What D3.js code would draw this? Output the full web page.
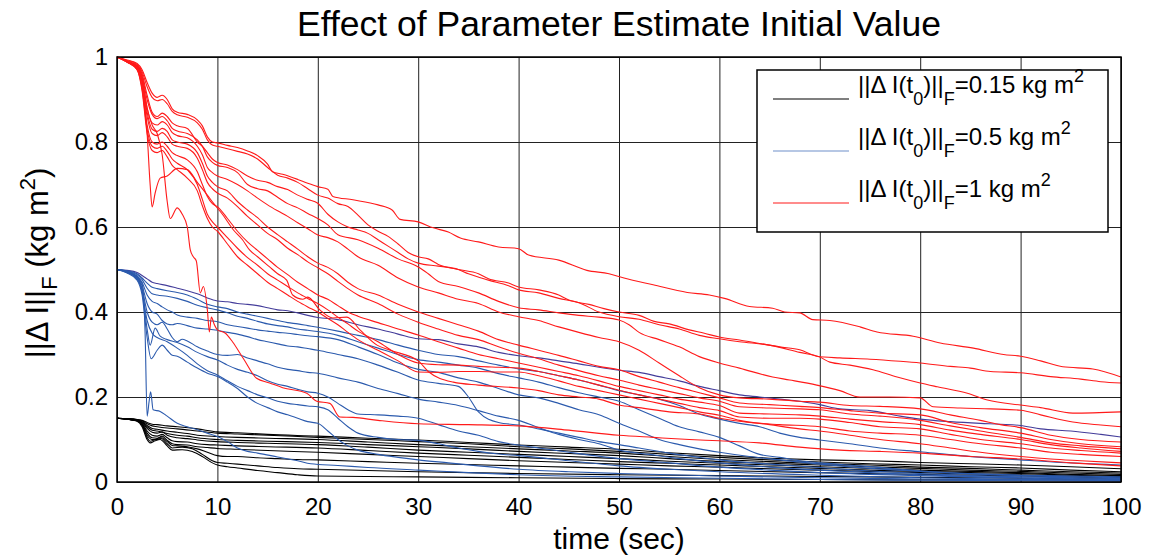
<!DOCTYPE html>
<html><head><meta charset="utf-8">
<script src="https://cdn.jsdelivr.net/npm/d3@7"></script>
<style>
body{margin:0;background:#fff;}
svg{display:block;font-family:Arial,"Liberation Sans",Helvetica,sans-serif;}
</style>
</head><body>
<svg id="c" width="1151" height="556"></svg>
<script>
// ---------------- DATA ----------------
const titleText = "Effect of Parameter Estimate Initial Value";
const xLabel = "time (sec)";
const xTicks = [0,10,20,30,40,50,60,70,80,90,100];
const xTickLabels = ["0","10","20","30","40","50","60","70","80","90","100"];
const yTicks = [0,0.2,0.4,0.6,0.8,1];
const yTickLabels = ["0","0.2","0.4","0.6","0.8","1"];
const legendValues = ["0.15","0.5","1"];

// black: ||ΔI(t0)||F = 0.15
const blackSeries = [
 [[0,.15],[1,.149],[2,.147],[2.5,.145],[3,.14],[3.5,.136],[4,.135],[5,.132],[6,.13],[8,.125],[10,.118],[12,.116],[15,.112],[20,.108],[25,.103],[30,.099],[35,.093],[40,.087],[45,.082],[50,.077],[55,.069],[60,.062],[65,.056],[70,.052],[75,.05],[80,.046],[85,.043],[90,.04],[95,.036],[100,.031]],
 [[0,.15],[1,.149],[2,.147],[2.5,.144],[3,.137],[3.5,.132],[4,.13],[5,.127],[6,.125],[8,.12],[10,.115],[12,.113],[15,.11],[20,.105],[25,.1],[30,.095],[35,.09],[40,.083],[45,.078],[50,.072],[55,.065],[60,.058],[65,.052],[70,.047],[75,.043],[80,.04],[85,.036],[90,.033],[95,.028],[100,.024]],
 [[0,.15],[1,.149],[2,.146],[2.5,.142],[3,.133],[3.5,.126],[4,.124],[5,.12],[6,.117],[7,.114],[8,.11],[10,.107],[12,.105],[15,.103],[20,.1],[25,.094],[30,.088],[35,.083],[40,.078],[45,.073],[50,.068],[55,.06],[60,.053],[65,.048],[70,.043],[75,.04],[80,.035],[85,.032],[90,.028],[95,.024],[100,.021]],
 [[0,.15],[1,.149],[2,.146],[2.5,.141],[3,.13],[3.5,.122],[4,.12],[5,.114],[6,.11],[7,.108],[8,.104],[10,.1],[12,.098],[15,.096],[20,.093],[25,.088],[30,.083],[35,.078],[40,.072],[45,.067],[50,.062],[55,.055],[60,.048],[65,.044],[70,.04],[75,.036],[80,.032],[85,.028],[90,.025],[95,.021],[100,.018]],
 [[0,.15],[1,.148],[2,.145],[2.5,.14],[3,.126],[3.5,.117],[4,.115],[4.5,.118],[5,.11],[6,.104],[7,.102],[8,.099],[10,.095],[12,.093],[15,.091],[20,.088],[25,.082],[30,.075],[35,.07],[40,.065],[45,.06],[50,.055],[55,.049],[60,.044],[65,.04],[70,.036],[75,.032],[80,.028],[85,.025],[90,.022],[95,.018],[100,.015]],
 [[0,.15],[1,.148],[2,.145],[2.5,.138],[3,.12],[3.5,.11],[4,.108],[4.5,.112],[5,.104],[5.5,.097],[6,.095],[7,.094],[8,.09],[9,.088],[10,.087],[12,.085],[15,.083],[20,.08],[25,.074],[30,.068],[35,.063],[40,.058],[45,.053],[50,.048],[55,.044],[60,.04],[65,.036],[70,.032],[75,.028],[80,.025],[85,.022],[90,.02],[95,.016],[100,.013]],
 [[0,.15],[1,.148],[2,.145],[2.5,.137],[3,.115],[3.5,.104],[4,.103],[4.5,.108],[5,.098],[5.5,.09],[6,.088],[7,.087],[8,.083],[9,.081],[10,.079],[12,.077],[15,.074],[20,.07],[25,.065],[30,.06],[35,.055],[40,.05],[45,.046],[50,.042],[55,.038],[60,.035],[65,.031],[70,.028],[75,.025],[80,.022],[85,.019],[90,.017],[95,.014],[100,.011]],
 [[0,.15],[1,.148],[2,.144],[2.5,.135],[3,.11],[3.5,.1],[4,.1],[4.5,.104],[5,.095],[5.5,.086],[6,.085],[7,.083],[8,.078],[9,.07],[10,.062],[11,.06],[12,.06],[14,.057],[16,.055],[18,.053],[20,.052],[25,.048],[30,.044],[35,.041],[40,.038],[45,.035],[50,.032],[55,.03],[60,.027],[70,.022],[80,.018],[90,.014],[100,.009]],
 [[0,.15],[1,.148],[2,.144],[2.5,.134],[3,.105],[3.3,.096],[3.8,.1],[4.3,.104],[5,.09],[5.5,.08],[6.5,.082],[7.5,.078],[8.5,.065],[9.5,.05],[10,.046],[11,.044],[12,.042],[14,.038],[16,.034],[18,.031],[20,.03],[25,.027],[30,.024],[40,.02],[50,.017],[60,.015],[70,.013],[80,.011],[90,.009],[100,.007]],
 [[0,.15],[1,.148],[2,.143],[2.5,.13],[3,.1],[3.3,.092],[3.8,.097],[4.3,.1],[5,.085],[5.5,.075],[6.5,.076],[7.5,.072],[8.5,.06],[9.5,.045],[10,.04],[11,.036],[12,.033],[14,.027],[16,.022],[18,.017],[20,.014],[25,.013],[30,.012],[40,.01],[50,.008],[60,.007],[70,.006],[80,.005],[90,.005],[100,.005]]
];

// blue: ||ΔI(t0)||F = 0.5
const blueSeries = [
 [[0,.5],[1,.498],[2,.493],[2.5,.486],[3,.478],[3.5,.47],[4,.467],[5,.462],[6,.456],[7,.45],[8,.443],[9,.433],[10,.426],[11,.424],[12,.42],[13,.418],[14,.415],[15,.41],[16,.405],[17,.403],[18,.398],[19,.392],[20,.387],[22,.382],[24,.37],[26,.36],[28,.348],[30,.337],[32,.335],[34,.325],[36,.318],[38,.305],[40,.297],[42,.292],[44,.285],[46,.278],[48,.27],[50,.263],[52,.258],[54,.248],[56,.238],[58,.225],[60,.215],[62,.205],[64,.2],[66,.195],[68,.19],[70,.182],[72,.172],[75,.168],[78,.155],[80,.148],[83,.142],[86,.138],[88,.136],[90,.133],[92,.125],[95,.12],[98,.112],[100,.106]],
 [[0,.5],[1,.497],[2,.49],[2.5,.48],[3,.468],[3.5,.458],[4,.455],[5,.45],[6,.446],[7,.44],[8,.43],[9,.418],[10,.412],[11,.408],[12,.4],[13,.395],[14,.39],[15,.385],[16,.38],[17,.375],[18,.372],[19,.368],[20,.364],[22,.355],[24,.345],[26,.335],[28,.322],[30,.31],[32,.3],[34,.295],[36,.285],[38,.275],[40,.266],[42,.26],[44,.25],[46,.24],[48,.228],[50,.215],[52,.205],[54,.195],[56,.18],[58,.16],[60,.148],[62,.138],[64,.13],[66,.115],[68,.105],[70,.099],[73,.09],[76,.08],[80,.071],[84,.062],[88,.055],[90,.052],[94,.046],[97,.043],[100,.04]],
 [[0,.5],[1,.496],[2,.488],[2.5,.476],[3,.456],[3.5,.443],[4,.44],[5,.437],[6,.432],[7,.425],[8,.416],[9,.41],[10,.405],[11,.398],[12,.39],[13,.385],[14,.378],[15,.372],[16,.368],[17,.365],[18,.36],[19,.357],[20,.354],[22,.345],[24,.33],[26,.315],[28,.3],[30,.288],[32,.282],[34,.275],[36,.268],[38,.255],[40,.245],[42,.235],[44,.222],[46,.21],[48,.2],[50,.19],[52,.17],[54,.15],[56,.13],[58,.118],[60,.105],[62,.085],[64,.065],[66,.058],[68,.05],[70,.045],[74,.038],[78,.03],[80,.026],[85,.02],[90,.016],[95,.014],[100,.012]],
 [[0,.5],[1,.495],[2,.485],[2.5,.47],[3,.44],[3.5,.425],[4,.42],[4.5,.412],[5,.405],[5.5,.4],[6,.393],[7,.388],[8,.385],[9,.38],[10,.377],[11,.37],[12,.366],[13,.362],[14,.358],[15,.355],[16,.352],[17,.35],[18,.347],[19,.344],[20,.342],[22,.335],[24,.318],[26,.3],[28,.28],[30,.265],[32,.258],[34,.245],[36,.235],[38,.22],[40,.205],[42,.198],[44,.185],[46,.17],[48,.158],[50,.138],[52,.12],[54,.1],[56,.088],[58,.078],[60,.07],[63,.06],[66,.052],[70,.042],[75,.032],[80,.025],[85,.019],[90,.015],[95,.012],[100,.01]],
 [[0,.5],[1,.495],[2,.484],[2.5,.462],[3,.42],[3.5,.4],[4,.395],[4.5,.38],[5,.372],[5.5,.37],[6,.373],[7,.368],[8,.362],[9,.36],[10,.357],[11,.352],[12,.348],[13,.342],[14,.335],[15,.33],[16,.325],[17,.32],[18,.318],[19,.314],[20,.31],[22,.3],[24,.29],[26,.275],[28,.258],[30,.24],[32,.232],[34,.225],[35,.2],[36,.165],[38,.14],[40,.134],[42,.125],[44,.115],[46,.105],[48,.095],[50,.088],[52,.08],[55,.068],[58,.058],[60,.052],[65,.042],[70,.034],[75,.026],[80,.02],[85,.015],[90,.012],[95,.01],[100,.008]],
 [[0,.5],[1,.494],[2,.482],[2.5,.455],[3,.4],[3.5,.376],[4,.37],[4.5,.376],[5,.36],[5.5,.34],[6,.33],[6.5,.336],[7,.332],[8,.318],[9,.308],[10,.3],[11,.298],[12,.3],[13,.292],[14,.285],[15,.278],[16,.27],[17,.265],[18,.262],[19,.258],[20,.256],[22,.245],[24,.235],[26,.22],[28,.208],[30,.195],[32,.188],[34,.18],[36,.168],[38,.155],[40,.145],[42,.128],[44,.112],[46,.1],[48,.09],[50,.075],[53,.065],[56,.055],[60,.045],[65,.035],[70,.028],[75,.022],[80,.017],[85,.013],[90,.01],[95,.008],[100,.006]],
 [[0,.5],[1,.494],[2,.48],[2.5,.45],[3,.36],[3.3,.322],[3.8,.362],[4.3,.343],[5,.335],[6,.328],[7,.318],[8,.305],[9,.295],[10,.287],[11,.275],[12,.265],[13,.258],[14,.25],[15,.238],[16,.23],[17,.225],[18,.218],[19,.212],[20,.209],[21,.2],[22,.185],[23,.17],[24,.16],[26,.158],[28,.155],[30,.15],[32,.135],[34,.12],[36,.11],[38,.095],[40,.087],[42,.08],[45,.07],[50,.055],[55,.045],[60,.035],[65,.028],[70,.022],[80,.015],[90,.009],[100,.005]],
 [[0,.5],[1,.493],[2,.478],[2.5,.448],[3,.38],[3.5,.35],[4,.34],[5,.33],[6,.315],[7,.298],[8,.278],[9,.262],[10,.252],[11,.238],[12,.225],[13,.215],[14,.205],[15,.198],[16,.19],[17,.185],[18,.182],[19,.179],[20,.177],[21,.17],[22,.15],[23,.13],[24,.115],[26,.105],[28,.1],[30,.098],[32,.09],[34,.08],[36,.072],[38,.066],[40,.062],[45,.05],[50,.038],[55,.03],[60,.024],[70,.016],[80,.01],[90,.006],[100,.004]],
 [[0,.5],[1,.492],[2,.475],[2.5,.44],[3,.34],[3.4,.29],[4,.31],[4.5,.322],[5,.31],[5.5,.298],[6,.296],[7,.282],[8,.268],[9,.256],[10,.248],[11,.235],[12,.22],[13,.2],[14,.185],[15,.175],[16,.165],[17,.158],[18,.15],[19,.142],[20,.138],[21,.12],[22,.1],[23,.085],[24,.075],[26,.065],[28,.058],[30,.052],[33,.045],[36,.038],[40,.03],[45,.024],[50,.02],[60,.014],[70,.01],[80,.007],[90,.005],[100,.003]],
 [[0,.5],[1,.495],[2,.482],[2.5,.467],[2.8,.35],[3,.155],[3.2,.19],[3.35,.212],[3.6,.17],[4.3,.166],[5,.155],[6,.138],[7,.13],[8,.123],[9,.115],[10,.107],[11,.095],[12,.08],[13,.072],[14,.068],[16,.059],[18,.05],[19.3,.043],[22,.039],[25,.034],[30,.028],[35,.022],[40,.017],[50,.012],[60,.009],[70,.006],[80,.004],[90,.003],[100,.002]]
];

// red: ||ΔI(t0)||F = 1
const redSeries = [
 [[0,1],[1,.993],[2,.985],[2.5,.97],[3,.94],[3.5,.915],[4,.905],[4.5,.91],[5,.9],[5.5,.878],[6,.87],[7,.865],[8,.852],[8.5,.838],[9,.812],[9.5,.8],[10,.798],[11,.792],[12,.787],[13,.779],[14,.768],[15,.748],[15.5,.73],[16.5,.724],[18,.712],[19,.703],[20,.695],[21,.689],[21.5,.672],[23.5,.664],[26,.652],[27.4,.64],[28.2,.618],[30,.612],[31.5,.598],[33,.588],[34.2,.574],[36,.565],[38,.553],[40,.549],[41,.534],[44,.522],[46.8,.498],[49,.49],[50.5,.48],[53.4,.464],[56.8,.446],[59,.44],[60.5,.432],[63,.413],[65.3,.409],[66.5,.4],[68,.398],[69.3,.382],[71,.38],[74,.365],[75.7,.353],[79.3,.343],[82,.327],[85.3,.315],[88.3,.3],[90,.296],[92,.285],[94.2,.271],[97.2,.266],[100,.247]],
 [[0,1],[1,.992],[2,.983],[2.5,.965],[3,.93],[3.5,.905],[4,.897],[4.5,.9],[5,.89],[5.5,.872],[6,.864],[7,.858],[8,.845],[8.5,.83],[9,.805],[9.5,.793],[10,.79],[11,.784],[12,.778],[13,.772],[14,.76],[15,.74],[16,.722],[17,.715],[18,.705],[19,.69],[20,.675],[21,.668],[22,.655],[23,.648],[24,.628],[25,.605],[26,.59],[27,.578],[28,.56],[29,.54],[30,.53],[31,.525],[32,.512],[34,.5],[36,.49],[37,.478],[39,.468],[40,.459],[42,.452],[44,.44],[45,.428],[47,.418],[48.5,.408],[50,.4],[52,.392],[53.5,.378],[55,.372],[57,.358],[58.5,.35],[60,.341],[62,.334],[64,.326],[66,.318],[68,.311],[69.7,.296],[72,.292],[75,.289],[78,.284],[80,.28],[83,.272],[85,.268],[87,.26],[90,.257],[93,.248],[96,.242],[98,.236],[100,.233]],
 [[0,1],[1,.99],[2,.98],[2.5,.96],[3,.91],[3.5,.87],[4,.86],[4.5,.868],[5,.86],[5.5,.845],[6,.838],[7,.832],[8,.8],[8.5,.79],[9,.775],[9.5,.76],[10,.752],[11,.746],[12,.735],[13,.72],[14,.71],[15,.705],[16,.695],[17,.688],[18,.675],[19,.665],[20,.656],[21,.63],[22,.612],[23,.6],[24,.593],[25,.585],[26,.57],[27,.555],[28,.54],[29,.525],[30,.515],[32,.508],[34,.5],[35,.49],[37,.475],[39,.462],[40,.452],[42,.445],[44,.432],[46,.422],[48,.4],[50,.389],[52,.383],[54,.37],[56,.36],[58,.345],[60,.337],[62,.33],[65,.322],[68,.305],[70,.294],[71,.282],[73,.275],[75.3,.264],[77.7,.247],[80,.233],[81.7,.224],[84.7,.209],[86.7,.193],[90,.181],[92,.175],[95.2,.162],[100,.165]],
 [[0,1],[1,.99],[2,.98],[2.5,.955],[3,.9],[3.5,.865],[4,.855],[4.5,.86],[5,.85],[5.5,.832],[6,.826],[7,.82],[8,.805],[8.5,.79],[9,.765],[9.5,.752],[10,.745],[11,.74],[12,.728],[13,.7],[14,.69],[15,.685],[16,.67],[17,.655],[18,.645],[19,.632],[20,.62],[21,.605],[22,.582],[24,.57],[26,.55],[28,.525],[30,.506],[31,.49],[32,.472],[34,.46],[36,.445],[38,.425],[40,.41],[42,.405],[44,.398],[46,.392],[48,.388],[50,.381],[51,.37],[52,.352],[54,.335],[56,.318],[58,.295],[60,.28],[62,.268],[65.3,.247],[67,.24],[69.7,.228],[72,.215],[74,.2],[77,.2],[80,.198],[81.3,.177],[84,.174],[87,.172],[90,.169],[92,.158],[95.2,.141],[98,.134],[100,.13]],
 [[0,1],[1,.99],[2,.978],[2.5,.95],[3,.88],[3.5,.845],[4,.84],[4.5,.848],[5,.84],[5.5,.822],[6,.815],[7,.81],[8,.79],[8.5,.77],[9,.74],[9.5,.728],[10,.72],[11,.712],[12,.7],[13,.685],[14,.668],[15,.652],[16,.638],[17,.625],[18,.61],[19,.596],[20,.581],[21,.575],[22,.565],[23,.548],[24,.53],[26,.51],[28,.48],[30,.459],[32,.445],[34,.43],[36,.42],[38,.4],[40,.389],[42,.38],[44,.365],[46,.352],[48,.34],[50,.33],[52,.31],[54,.28],[56,.25],[57,.235],[58,.222],[60,.205],[62,.198],[65,.195],[68,.19],[70,.188],[73,.18],[76,.178],[80,.172],[83,.158],[86,.145],[88,.135],[90,.128],[93,.11],[96,.1],[100,.094]],
 [[0,1],[1,.99],[2,.977],[2.5,.945],[3,.87],[3.5,.83],[4,.825],[4.5,.832],[5,.825],[5.5,.805],[6,.8],[7,.795],[8,.775],[8.5,.75],[9,.72],[9.5,.705],[10,.695],[11,.685],[12,.66],[13,.64],[14,.622],[15,.6],[16,.582],[17,.565],[18,.548],[19,.53],[20,.515],[21,.505],[22,.49],[23,.47],[24,.455],[26,.44],[28,.418],[30,.4],[32,.385],[34,.37],[36,.355],[38,.335],[40,.322],[42,.31],[44,.298],[46,.285],[48,.272],[50,.264],[52,.248],[54,.235],[56,.222],[58,.21],[60,.198],[62,.186],[65,.182],[68,.178],[70,.175],[73,.168],[76,.162],[80,.158],[83,.14],[86,.128],[90,.115],[93,.1],[96,.09],[100,.083]],
 [[0,1],[1,.988],[2,.975],[2.5,.94],[3,.86],[3.5,.82],[4,.815],[4.5,.822],[5,.812],[5.5,.795],[6,.79],[7,.785],[8,.762],[8.5,.735],[9,.705],[9.5,.69],[10,.68],[11,.668],[12,.648],[13,.625],[14,.605],[15,.585],[16,.57],[17,.55],[18,.535],[19,.518],[20,.504],[21,.49],[22,.472],[23,.455],[24,.44],[26,.42],[28,.395],[30,.376],[32,.36],[34,.345],[36,.335],[38,.318],[40,.303],[42,.29],[44,.275],[46,.262],[48,.25],[50,.24],[52,.228],[54,.218],[56,.208],[58,.198],[60,.19],[62,.177],[65,.174],[68,.172],[70,.17],[73,.16],[76,.155],[80,.145],[83,.132],[86,.12],[90,.105],[93,.092],[96,.085],[100,.078]],
 [[0,1],[1,.988],[2,.972],[2.5,.93],[3,.84],[3.5,.8],[4,.795],[4.5,.8],[5,.79],[5.5,.775],[6,.768],[7,.758],[8,.73],[8.5,.7],[9,.672],[9.5,.655],[10,.648],[11,.62],[12,.59],[13,.565],[14,.545],[15,.525],[16,.505],[17,.488],[18,.47],[19,.455],[20,.44],[21,.43],[22,.415],[23,.4],[24,.39],[26,.375],[28,.36],[30,.346],[32,.33],[34,.315],[36,.3],[38,.29],[40,.28],[42,.27],[44,.26],[46,.25],[48,.238],[50,.225],[52,.215],[54,.205],[56,.195],[58,.188],[60,.18],[62,.162],[65,.16],[68,.158],[70,.155],[73,.148],[76,.142],[80,.135],[83,.122],[86,.112],[90,.1],[93,.088],[96,.08],[100,.072]],
 [[0,1],[1,.988],[2,.97],[2.5,.925],[3,.83],[3.5,.79],[4,.785],[4.5,.79],[5,.778],[5.5,.76],[6,.75],[7,.735],[8,.7],[8.5,.665],[9,.63],[9.5,.612],[10,.6],[11,.575],[12,.55],[13,.528],[14,.51],[15,.49],[16,.475],[17,.46],[18,.445],[19,.432],[20,.42],[21,.405],[22,.388],[23,.372],[24,.355],[26,.33],[28,.3],[30,.28],[32,.276],[34,.275],[36,.272],[38,.27],[40,.268],[42,.26],[44,.25],[46,.24],[48,.228],[50,.216],[52,.205],[54,.195],[56,.185],[58,.175],[60,.168],[62,.153],[65,.15],[68,.15],[70,.148],[73,.14],[76,.13],[80,.125],[83,.112],[86,.1],[90,.09],[93,.08],[96,.074],[100,.068]],
 [[0,1],[1,.988],[2,.97],[2.5,.92],[3,.82],[3.5,.78],[4,.775],[4.5,.78],[5,.765],[5.5,.745],[6,.735],[7,.715],[8,.685],[8.5,.65],[9,.62],[9.5,.6],[10,.59],[11,.56],[12,.53],[13,.51],[14,.49],[15,.47],[16,.455],[17,.44],[18,.425],[19,.412],[20,.4],[21,.385],[22,.37],[23,.352],[24,.335],[26,.31],[28,.285],[30,.259],[32,.258],[34,.26],[36,.26],[38,.259],[40,.259],[42,.25],[44,.238],[46,.225],[48,.215],[50,.205],[52,.195],[54,.185],[56,.175],[58,.165],[60,.157],[62,.145],[65,.135],[68,.125],[70,.12],[73,.11],[76,.1],[80,.09],[83,.08],[86,.07],[90,.06],[93,.054],[96,.05],[100,.045]],
 [[0,1],[1,.99],[2,.975],[2.5,.94],[3,.82],[3.3,.7],[3.5,.647],[3.8,.68],[4.3,.715],[5,.72],[6,.738],[7,.735],[8,.705],[9,.675],[9.6,.656],[10.5,.63],[11.6,.593],[12.5,.57],[13.2,.546],[14,.53],[15.2,.506],[16,.49],[16.9,.475],[17.5,.44],[18.5,.43],[19,.435],[20.2,.405],[21.5,.386],[22.9,.388],[24.2,.358],[25.9,.322],[27.2,.31],[30,.285],[31,.26],[33.5,.235],[36,.228],[40,.221],[42,.215],[44,.205],[46,.2],[48,.195],[50,.181],[52,.175],[55,.165],[58,.16],[60,.15],[63,.14],[66,.135],[70,.13],[73,.12],[76,.115],[80,.11],[83,.1],[86,.09],[90,.08],[93,.07],[96,.065],[100,.06]],
 [[0,1],[1,.99],[2,.975],[2.5,.95],[3,.88],[3.5,.84],[4,.82],[4.5,.77],[5,.66],[5.3,.62],[6,.645],[6.5,.63],[7,.6],[7.3,.546],[7.6,.53],[7.9,.52],[8.3,.445],[8.6,.46],[9,.405],[9.2,.353],[9.4,.388],[9.7,.37],[10,.358],[10.8,.35],[11.5,.33],[12.6,.29],[13.9,.244],[15.2,.233],[16.5,.222],[18.9,.209],[19.9,.19],[21.2,.185],[22.2,.153],[23.5,.152],[26,.145],[30,.137],[35,.135],[40,.132],[45,.122],[50,.11],[53.4,.105],[57,.1],[60,.097],[64,.092],[68,.082],[72,.075],[76,.072],[80,.068],[85,.06],[90,.054],[95,.045],[100,.038]]
];

// ---------------- CHART ----------------
const svg = d3.select("#c");
const M = {left:117, right:1121, top:57, bottom:482};
const x = d3.scaleLinear().domain([0,100]).range([M.left, M.right]);
const y = d3.scaleLinear().domain([0,1]).range([M.bottom, M.top]);

svg.append("rect").attr("width",1151).attr("height",556).attr("fill","#fff");

// title
svg.append("text").attr("x",619).attr("y",36).attr("text-anchor","middle")
  .attr("font-size",35.5).attr("fill","#000").text(titleText);

// x grid + ticks
const gx = svg.append("g").attr("transform",`translate(0,${M.bottom})`)
  .call(d3.axisBottom(x).tickValues(xTicks).tickSize(-(M.bottom-M.top)).tickPadding(16)
    .tickFormat((d,i)=>xTickLabels[i]));
gx.select(".domain").remove();
gx.selectAll(".tick line").attr("stroke","#222").attr("stroke-width",1);
gx.selectAll(".tick text").attr("font-size",24).attr("fill","#000").attr("font-family","Arial,'Liberation Sans',sans-serif");

// y grid + ticks
const gy = svg.append("g").attr("transform",`translate(${M.left},0)`)
  .call(d3.axisLeft(y).tickValues(yTicks).tickSize(-(M.right-M.left)).tickPadding(9)
    .tickFormat((d,i)=>yTickLabels[i]));
gy.select(".domain").remove();
gy.selectAll(".tick line").attr("stroke","#222").attr("stroke-width",1);
gy.selectAll(".tick text").attr("font-size",24).attr("fill","#000").attr("font-family","Arial,'Liberation Sans',sans-serif");

// clip
svg.append("clipPath").attr("id","clip").append("rect")
  .attr("x",M.left).attr("y",M.top-2).attr("width",M.right-M.left).attr("height",M.bottom-M.top+2);

const line = d3.line().x(d=>x(d[0])).y(d=>y(d[1])).curve(d3.curveMonotoneX);
const plot = svg.append("g").attr("clip-path","url(#clip)");

const groups = [
  {data:blackSeries, color:"#000000"},
  {data:blueSeries, color:"#2b5aad"},
  {data:redSeries, color:"#ff1a1a"}
];
groups.forEach(g=>{
  plot.selectAll(null).data(g.data).enter().append("path")
    .attr("d",line).attr("fill","none")
    .attr("stroke",(d,i)=> (g.data===blueSeries && i===0) ? "#443d9a" : g.color)
    .attr("stroke-width",1.1).attr("stroke-linejoin","round");
});

// axes box
svg.append("rect").attr("x",M.left).attr("y",M.top).attr("width",M.right-M.left).attr("height",M.bottom-M.top)
  .attr("fill","none").attr("stroke","#000").attr("stroke-width",1.5);

// x label
svg.append("text").attr("x",619).attr("y",549).attr("text-anchor","middle")
  .attr("font-size",30).attr("fill","#000").text(xLabel);

// y label (rotated, with subscript/superscript)
const yl = svg.append("text").attr("transform","translate(48,263) rotate(-90)")
  .attr("text-anchor","middle").attr("font-size",31).attr("fill","#000");
yl.append("tspan").text("||\u0394 I||");
yl.append("tspan").attr("dy",9).attr("font-size",22).text("F");
yl.append("tspan").attr("dy",-9).text(" (kg m");
yl.append("tspan").attr("dy",-13).attr("font-size",22).text("2");
yl.append("tspan").attr("dy",13).text(")");

// legend
const L = {x:757, y:70, w:351, h:162};
svg.append("rect").attr("x",L.x).attr("y",L.y).attr("width",L.w).attr("height",L.h)
  .attr("fill","#fff").attr("stroke","#000").attr("stroke-width",1.5);
const legColors = ["#000000","#6f8fca","#ff1a1a"];
legendValues.forEach((v,i)=>{
  const ly = 99 + i*52;
  svg.append("line").attr("x1",773).attr("x2",849).attr("y1",ly).attr("y2",ly)
    .attr("stroke",legColors[i]).attr("stroke-width",1.2);
  const t = svg.append("text").attr("x",858).attr("y",ly-6).attr("font-size",24).attr("fill","#000");
  t.append("tspan").text("||\u0394 I(t");
  t.append("tspan").attr("dy",12).attr("font-size",18).text("0");
  t.append("tspan").attr("dy",-12).text(")||");
  t.append("tspan").attr("dy",12).attr("font-size",18).text("F");
  t.append("tspan").attr("dy",-12).text("=" + v + " kg m");
  t.append("tspan").attr("dy",-11).attr("font-size",18).text("2");
});
</script>
</body></html>
